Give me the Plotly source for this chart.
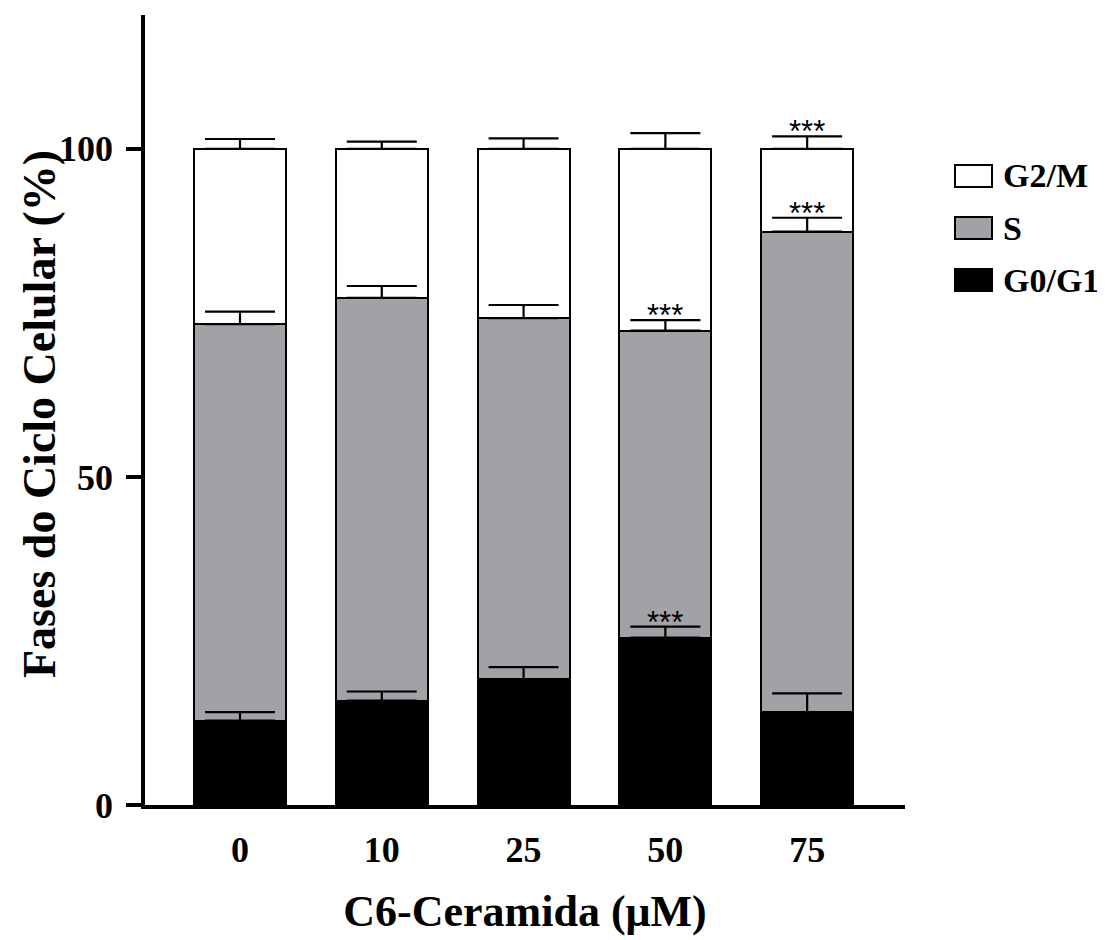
import plotly.graph_objects as go

categories = ["0", "10", "25", "50", "75"]
g0g1 = [12.85, 15.9, 19.2, 25.5, 14.1]
g0g1_err = [1.3, 1.4, 1.8, 1.7, 2.9]
s_phase = [60.45, 61.4, 55.0, 46.8, 73.3]
s_err = [1.9, 1.8, 2.0, 1.6, 2.1]
g2m = [26.7, 22.7, 25.8, 27.7, 12.6]
g2m_err = [1.5, 1.1, 1.6, 2.4, 1.9]
# significance marks: (series, category index)
sig_marks = [("G0/G1", 3), ("S", 3), ("S", 4), ("G2/M", 4)]

GRAY = "#a2a1a6"
FONT = "Liberation Serif"

x = list(range(len(categories)))
cum_g0 = g0g1
cum_s = [a + b for a, b in zip(g0g1, s_phase)]
cum_g2 = [a + b for a, b in zip(cum_s, g2m)]

fig = go.Figure()
for name, vals, color in [
    ("G0/G1", g0g1, "black"),
    ("S", s_phase, GRAY),
    ("G2/M", g2m, "white"),
]:
    fig.add_trace(go.Bar(
        x=x, y=vals, name=name, width=0.65,
        marker=dict(color=color, line=dict(color="black", width=2)),
        showlegend=False,
    ))

tops = {"G0/G1": cum_g0, "S": cum_s, "G2/M": cum_g2}
errs = {"G0/G1": g0g1_err, "S": s_err, "G2/M": g2m_err}
for name in ["G0/G1", "S", "G2/M"]:
    fig.add_trace(go.Scatter(
        x=x, y=tops[name], mode="markers",
        marker=dict(size=1, opacity=0),
        error_y=dict(type="data", symmetric=False, array=errs[name],
                     arrayminus=[0] * len(x), color="black",
                     thickness=2.2, width=35),
        showlegend=False, hoverinfo="skip",
    ))

for name, i in sig_marks:
    fig.add_annotation(
        x=i, y=tops[name][i] + errs[name][i], xref="x", yref="y",
        text="***", showarrow=False, yanchor="bottom", yshift=-15,
        font=dict(family="Liberation Sans", size=31, color="black"),
    )

# page body adds an 8px offset; figure sized to fit the window
OFF = 8
W, H = 1105 - OFF, 940 - OFF
L, T = 145 - OFF, 15 - OFF
R, B = W - (905 - OFF), H - (805 - OFF)
PW, PH = W - L - R, H - T - B


def px(sx):
    return (sx - OFF - L) / PW


def py(sy):
    return (H - B - (sy - OFF)) / PH


# legend drawn manually
leg = [("G2/M", "white", 176), ("S", GRAY, 228), ("G0/G1", "black", 280)]
for label, color, cy in leg:
    fig.add_shape(type="rect", xref="paper", yref="paper",
                  x0=px(955), x1=px(992), y0=py(cy + 11), y1=py(cy - 11),
                  fillcolor=color, line=dict(color="black", width=2))
    fig.add_annotation(xref="paper", yref="paper", x=px(1001), y=py(cy),
                       text=label, showarrow=False, xanchor="left", yanchor="middle",
                       font=dict(family=FONT, size=34, color="black", weight="bold"))

# y-axis title
fig.add_annotation(xref="paper", yref="paper", x=px(39), y=py(414),
                   text="Fases do Ciclo Celular (%)", textangle=-90, showarrow=False,
                   xanchor="center", yanchor="middle",
                   font=dict(family=FONT, size=46, color="black", weight="bold"))

fig.update_layout(
    width=W, height=H,
    margin=dict(l=L, r=R, t=T, b=B, autoexpand=False),
    paper_bgcolor="white", plot_bgcolor="white",
    barmode="stack",
    font=dict(family=FONT, color="black"),
)
fig.update_xaxes(
    range=[-0.67, 4.69], tickvals=x, ticktext=categories, automargin=False,
    showline=True, linecolor="black", linewidth=3.5, ticks="",
    showgrid=False, zeroline=False, ticklabelstandoff=10,
    tickfont=dict(family=FONT, size=36, weight="bold"),
    title=dict(text="C6-Ceramida (μM)", standoff=27,
               font=dict(family=FONT, size=44, weight="bold")),
)
fig.update_yaxes(
    range=[0, 120.4], tickvals=[0, 50, 100], automargin=False,
    showline=True, linecolor="black", linewidth=3.5,
    ticks="outside", ticklen=15, tickwidth=3.5, tickcolor="black",
    showgrid=False, zeroline=False, ticklabelstandoff=6,
    tickfont=dict(family=FONT, size=36, weight="bold"),
)

fig.write_html("out.html")
